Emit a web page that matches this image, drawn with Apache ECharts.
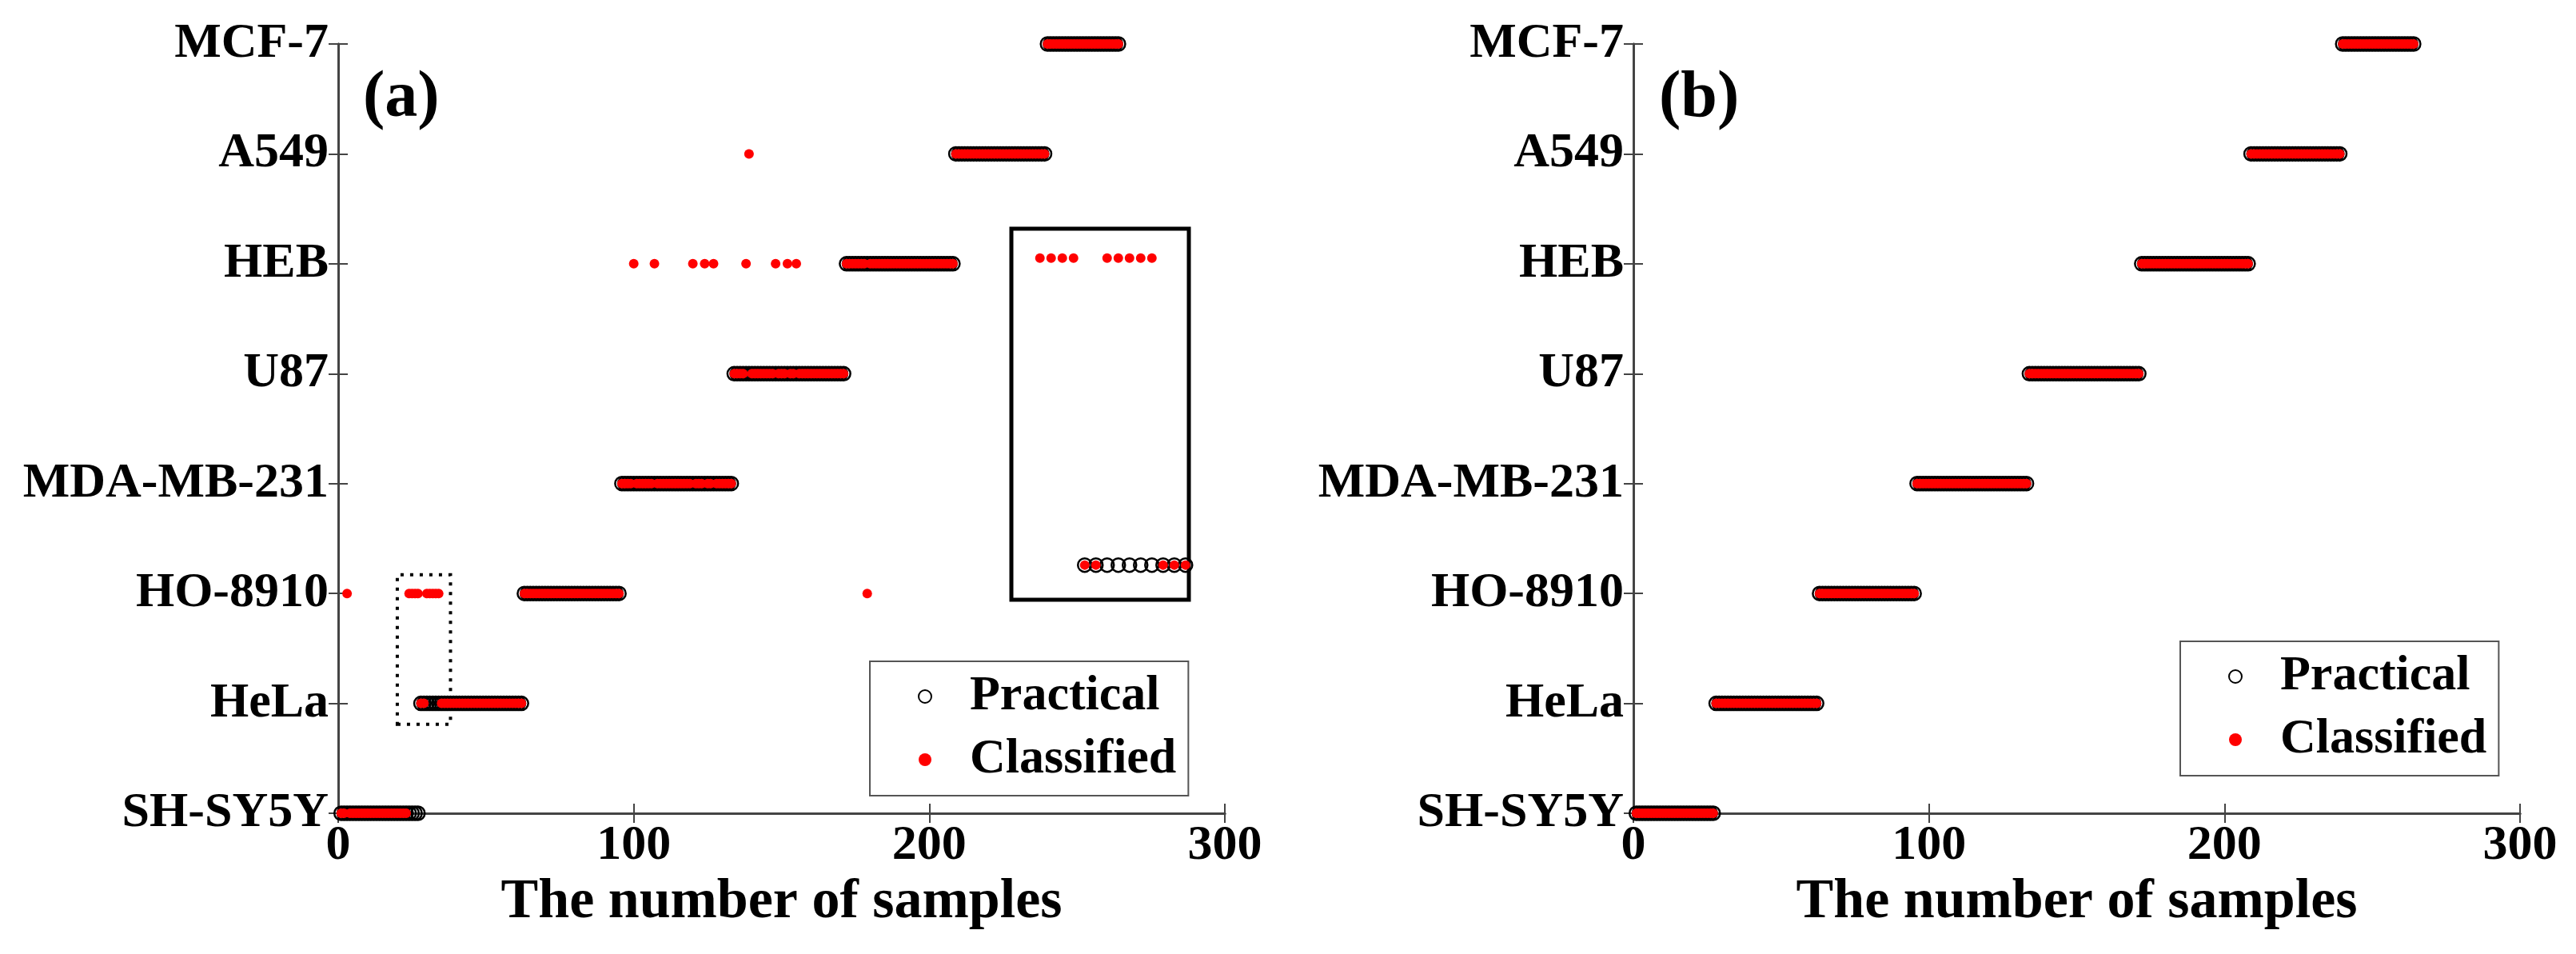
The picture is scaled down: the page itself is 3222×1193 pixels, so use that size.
<!DOCTYPE html>
<html>
<head>
<meta charset="utf-8">
<title>Practical vs classified cell lines</title>
<script src="https://cdn.jsdelivr.net/npm/echarts@6/dist/echarts.min.js"></script>
<style>
  html, body { margin: 0; padding: 0; background: #fff; }
  #chart { width: 3222px; height: 1193px; }
</style>
</head>
<body>
<div id="chart"></div>
<script>
// cell lines, bottom to top of the y axis
var cellLines = ['SH-SY5Y', 'HeLa', 'HO-8910', 'MDA-MB-231', 'U87', 'HEB', 'A549', 'MCF-7'];
// number of samples of each line, in sample order (1..264)
var sampleCounts = [27, 35, 33, 38, 38, 37, 31, 25];
// (a): samples put in the wrong class, and the class index they got
var wrongSamples = [3, 24, 25, 26, 27, 30, 31, 32, 33, 34, 100, 107, 120, 124, 127, 138, 139, 148, 152, 155, 179];
var wrongClasses = [2, 2, 2, 2, 2, 2, 2, 2, 2, 2, 5, 5, 5, 5, 5, 5, 6, 5, 5, 5, 2];
var xTicks = [0, 100, 200, 300];
// dotted box in (a) and the part of the plot its zoomed view shows
var boxX = [20, 38];
var boxY = [0.81, 2.17];
var zoomX = [21.45, 37.3];
var zoomY = [0.887, 2.096];

// practical label of every sample
var practical = [];
var n = 0;
sampleCounts.forEach(function (cnt, cls) {
  for (var k = 0; k < cnt; k++) {
    n++;
    practical.push([n, cls]);
  }
});
var classifiedA = practical.map(function (p) {
  var i = wrongSamples.indexOf(p[0]);
  return [p[0], i < 0 ? p[1] : wrongClasses[i]];
});
// (b): every sample classified right
var classifiedB = practical.map(function (p) { return [p[0], p[1]]; });

var font = '"Liberation Serif", "Times New Roman", serif';
var axisColor = '#444';

function xAxes(grid) {
  var line = { show: true, lineStyle: { color: axisColor, width: 3 } };
  var tick = { show: true, inside: true, length: 12, lineStyle: { color: axisColor, width: 2 } };
  return [{
    gridIndex: grid, type: 'value', position: 'bottom',
    min: xTicks[0], max: xTicks[xTicks.length - 1], interval: xTicks[1] - xTicks[0],
    name: 'The number of samples', nameLocation: 'middle', nameGap: 76,
    nameTextStyle: { fontFamily: font, fontWeight: 'bold', fontSize: 70, color: '#000' },
    axisLine: line, axisTick: tick,
    axisLabel: { fontFamily: font, fontWeight: 'bold', fontSize: 62, color: '#000', margin: 10 },
    splitLine: { show: false }
  }, {
    gridIndex: grid, type: 'value', position: 'top',
    min: xTicks[0], max: xTicks[xTicks.length - 1], interval: xTicks[1] - xTicks[0],
    axisLine: line, axisTick: tick, axisLabel: { show: false }, splitLine: { show: false }
  }];
}

function yAxes(grid) {
  var line = { show: true, lineStyle: { color: axisColor, width: 3 } };
  var tick = { show: true, inside: true, length: 12, lineStyle: { color: axisColor, width: 2 } };
  return [{
    gridIndex: grid, type: 'value', position: 'left',
    min: 0, max: cellLines.length - 1, interval: 1,
    axisLine: line, axisTick: tick,
    axisLabel: {
      fontFamily: font, fontWeight: 'bold', fontSize: 62, color: '#000', margin: 12,
      formatter: function (v) { return cellLines[v]; }
    },
    splitLine: { show: false }
  }, {
    gridIndex: grid, type: 'value', position: 'right',
    min: 0, max: cellLines.length - 1, interval: 1,
    axisLine: line, axisTick: tick, axisLabel: { show: false }, splitLine: { show: false }
  }];
}

function practicalSeries(axis, z) {
  return {
    name: 'Practical', type: 'scatter', xAxisIndex: axis, yAxisIndex: axis,
    data: practical, symbol: 'circle', symbolSize: 17,
    itemStyle: { color: 'rgba(0,0,0,0)', borderColor: '#000', borderWidth: 2.5, opacity: 1 },
    z: z, silent: true, animation: false
  };
}

function classifiedSeries(axis, data, z) {
  return {
    name: 'Classified', type: 'scatter', xAxisIndex: axis, yAxisIndex: axis,
    data: data, symbol: 'circle', symbolSize: 12,
    itemStyle: { color: '#ff0000', opacity: 1 },
    z: z, silent: true, animation: false
  };
}

function legendAt(left, top) {
  return {
    data: ['Practical', 'Classified'], orient: 'vertical', left: left, top: top,
    selectedMode: false, itemWidth: 16, itemHeight: 16, itemGap: 17,
    padding: [13, 15, 14, 60],
    borderColor: '#555', borderWidth: 2, backgroundColor: '#fff',
    textStyle: {
      fontFamily: font, fontWeight: 'bold', fontSize: 62, lineHeight: 62,
      color: '#000', padding: [0, 0, 0, 43]
    }
  };
}

function panelLabel(text, x) {
  return {
    type: 'text', x: x, y: 124, z: 10,
    style: { text: text, font: 'bold 82px ' + font, fill: '#000',
      textAlign: 'left', textVerticalAlign: 'middle', align: 'left', verticalAlign: 'middle' }
  };
}

var chart = echarts.init(document.getElementById('chart'), null, { renderer: 'canvas' });

// axis index 0/1: panel (a), 2/3: panel (b), 4: zoomed view inside (a)
var xs = xAxes(0).concat(xAxes(1));
var ys = yAxes(0).concat(yAxes(1));
xs.push({ gridIndex: 2, type: 'value', min: zoomX[0], max: zoomX[1], show: false });
ys.push({ gridIndex: 2, type: 'value', min: zoomY[0], max: zoomY[1], show: false });

var seriesA = practicalSeries(0, 2);
seriesA.markArea = {
  silent: true,
  itemStyle: { color: 'rgba(0,0,0,0)', borderColor: '#000', borderWidth: 4, borderType: [4, 8] },
  data: [[{ coord: [boxX[0], boxY[0]] }, { coord: [boxX[1], boxY[1]] }]]
};

var option = {
  backgroundColor: '#fff',
  animation: false,
  grid: [
    { left: 423, top: 55, width: 1109, height: 962 },
    { left: 2043, top: 55, width: 1109, height: 962 },
    { left: 1265, top: 286, width: 222, height: 464, show: true,
      borderColor: '#000', borderWidth: 5, backgroundColor: '#fff', z: 4 }
  ],
  xAxis: xs,
  yAxis: ys,
  legend: [legendAt(1088, 827), legendAt(2727, 802)],
  graphic: [panelLabel('(a)', 454), panelLabel('(b)', 2075)],
  series: [
    seriesA,
    classifiedSeries(0, classifiedA, 3),
    practicalSeries(4, 5),
    classifiedSeries(4, classifiedA, 6),
    practicalSeries(2, 2),
    classifiedSeries(2, classifiedB, 3)
  ]
};
chart.setOption(option);
</script>
</body>
</html>
